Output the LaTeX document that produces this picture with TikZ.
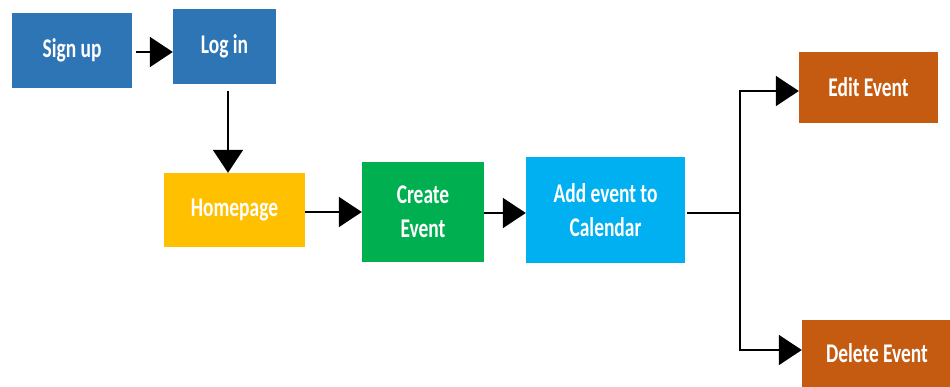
\documentclass[tikz,border=0pt]{standalone}
\usepackage{fontspec}
\setmainfont{Carlito}
\newfontfamily\lblfont[FakeStretch=0.72]{Carlito}
\usetikzlibrary{arrows.meta}
\definecolor{cblue}{HTML}{2E75B6}
\definecolor{cyellow}{HTML}{FFC000}
\definecolor{cgreen}{HTML}{00B050}
\definecolor{clblue}{HTML}{00B0F0}
\definecolor{corange}{HTML}{C55A11}
\tikzset{
  box/.style={fill=#1, draw=none, text=white, align=center, inner sep=0pt,
    font=\lblfont\bfseries\fontsize{27}{34}\selectfont},
  conn/.style={line width=2pt, -{Triangle[length=23pt,width=30pt]}},
  plain/.style={line width=2pt}
}
\begin{document}
\begin{tikzpicture}[x=1pt,y=-1pt]
\useasboundingbox (0,0) rectangle (950,387);
\node[box=cblue, minimum width=120pt, minimum height=75pt] (signup) at (72,50.5) {Sign up};
\node[box=cblue, minimum width=103pt, minimum height=75pt] (login) at (224.5,46.5) {Log in};
\node[box=cyellow, minimum width=141pt, minimum height=74pt] (home) at (234.5,210) {Homepage};
\node[box=cgreen, minimum width=122pt, minimum height=100pt] (create) at (423,212) {Create\\Event};
\node[box=clblue, minimum width=159pt, minimum height=106pt] (add) at (605.5,210) {Add event to\\Calendar};
\node[box=corange, minimum width=139pt, minimum height=71pt] (edit) at (868.5,87.5) {Edit Event};
\node[box=corange, minimum width=150pt, minimum height=67pt] (del) at (877,353.5) {Delete Event};
\coordinate (fork) at (740,213);
\draw[conn, shorten <=4pt] (signup.east |- 0,52) -- (login.west |- 0,52);
\draw[conn, shorten <=7pt] (login.south -| 228,0) -- (home.north -| 228,0);
\draw[conn] (home.east |- create.west) -- (create.west);
\draw[conn] (create.east |- fork) -- (add.west |- fork);
\draw[plain, shorten <=2pt] (add.east |- fork) -- (fork);
\draw[conn] (fork) -- (fork |- 0,91) -- (edit.west |- 0,91);
\draw[conn] (fork) -- (fork |- 0,350) -- (del.west |- 0,350);
\end{tikzpicture}
\end{document}
